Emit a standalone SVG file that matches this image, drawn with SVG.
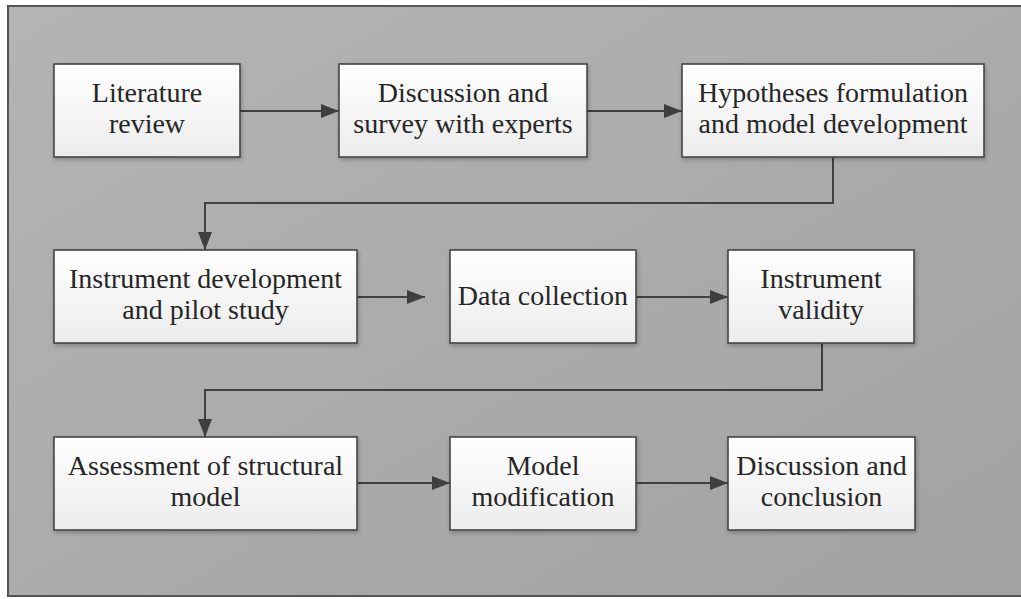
<svg xmlns="http://www.w3.org/2000/svg" width="1021" height="599" viewBox="0 0 1021 599">
  <defs>
    <linearGradient id="bg" x1="0" y1="0" x2="1" y2="1">
      <stop offset="0" stop-color="#b4b4b4"/>
      <stop offset="1" stop-color="#a2a2a2"/>
    </linearGradient>
    <linearGradient id="boxFill" x1="0" y1="0" x2="0" y2="1">
      <stop offset="0" stop-color="#ffffff"/>
      <stop offset="1" stop-color="#ececec"/>
    </linearGradient>
    <filter id="shadow" x="-10%" y="-10%" width="120%" height="130%">
      <feGaussianBlur in="SourceAlpha" stdDeviation="2"/>
      <feOffset dx="1" dy="2"/>
      <feComponentTransfer><feFuncA type="linear" slope="0.25"/></feComponentTransfer>
      <feMerge><feMergeNode/><feMergeNode in="SourceGraphic"/></feMerge>
    </filter>
    <marker id="arrow" markerUnits="userSpaceOnUse" markerWidth="18" markerHeight="14" refX="18" refY="7" orient="auto">
      <path d="M0,0 L18,7 L0,14 z" fill="#3f3f3f"/>
    </marker>
  </defs>
  <style>
    .box { fill: url(#boxFill); stroke: #454545; stroke-width: 1.6; filter: url(#shadow); }
    .label { font-family: 'Liberation Serif', 'Times New Roman', serif; font-size: 28px; fill: #262626; text-anchor: middle; }
    .conn { fill: none; stroke: #404040; stroke-width: 2; marker-end: url(#arrow); }
  </style>

  <rect width="1021" height="599" fill="#ffffff"/>
  <rect x="8" y="6" width="1020" height="590" fill="url(#bg)" stroke="#555555" stroke-width="2"/>

  <g id="connectors">
    <path class="conn" d="M240,111 H339"/>
    <path class="conn" d="M587,111 H682"/>
    <path class="conn" d="M833,157 V203 H205 V250"/>
    <path class="conn" d="M357,297 H425"/>
    <path class="conn" d="M636,297 H728"/>
    <path class="conn" d="M822,343 V390 H205 V437"/>
    <path class="conn" d="M357,483 H450"/>
    <path class="conn" d="M636,483 H728"/>
  </g>

  <g id="literature-review">
    <rect class="box" x="54" y="64" width="186" height="93"/>
    <text class="label" x="147" y="102">Literature</text>
    <text class="label" x="147" y="133">review</text>
  </g>
  <g id="discussion-survey">
    <rect class="box" x="339" y="64" width="248" height="93"/>
    <text class="label" x="463" y="102">Discussion and</text>
    <text class="label" x="463" y="133">survey with experts</text>
  </g>
  <g id="hypotheses">
    <rect class="box" x="682" y="64" width="302" height="93"/>
    <text class="label" x="833" y="102">Hypotheses formulation</text>
    <text class="label" x="833" y="133">and model development</text>
  </g>

  <g id="instrument-development">
    <rect class="box" x="54" y="250" width="303" height="93"/>
    <text class="label" x="205.5" y="288">Instrument development</text>
    <text class="label" x="205.5" y="319">and pilot study</text>
  </g>
  <g id="data-collection">
    <rect class="box" x="450" y="250" width="186" height="93"/>
    <text class="label" x="543" y="305">Data collection</text>
  </g>
  <g id="instrument-validity">
    <rect class="box" x="728" y="250" width="186" height="93"/>
    <text class="label" x="821" y="288">Instrument</text>
    <text class="label" x="821" y="319">validity</text>
  </g>

  <g id="structural-model">
    <rect class="box" x="54" y="437" width="303" height="93"/>
    <text class="label" x="205.5" y="475">Assessment of structural</text>
    <text class="label" x="205.5" y="506">model</text>
  </g>
  <g id="model-modification">
    <rect class="box" x="450" y="437" width="186" height="93"/>
    <text class="label" x="543" y="475">Model</text>
    <text class="label" x="543" y="506">modification</text>
  </g>
  <g id="discussion-conclusion">
    <rect class="box" x="728" y="437" width="187" height="93"/>
    <text class="label" x="821.5" y="475">Discussion and</text>
    <text class="label" x="821.5" y="506">conclusion</text>
  </g>
</svg>
